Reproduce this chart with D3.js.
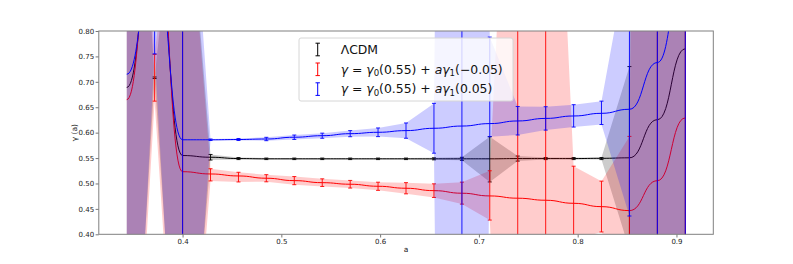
<!DOCTYPE html>
<html>
<head>
<meta charset="utf-8">
<style>
    body { margin: 0; background: #fff; }
    text { font-family: "DejaVu Sans", sans-serif; }
    .tick text { font-size: 7px; fill: #222; }
    .tick line { stroke: #777; }
</style>
</head>
<body>
<svg width="793" height="264"></svg>
<script src="https://d3js.org/d3.v7.min.js"></script>
<script>

    // scale factor a of the points
    var aVals = [0.3435, 0.3717, 0.4000, 0.4283, 0.4566, 0.4848, 0.5131, 0.5414, 0.5697, 0.5979, 0.6262,
                 0.6545, 0.6828, 0.7110, 0.7393, 0.7676, 0.7959, 0.8241, 0.8524, 0.8807, 0.9090];

    // model curves
    var blackLine = [0.689, 1.00, 0.555, 0.5516, 0.549, 0.5485, 0.5485, 0.5485, 0.5485, 0.5485, 0.5485,
                     0.5485, 0.5485, 0.5485, 0.549, 0.549, 0.549, 0.5495, 0.5505, 0.6255, 0.765];
    var redLine = [0.665, 1.05, 0.5232, 0.5187, 0.5148, 0.5103, 0.5056, 0.5016, 0.4985, 0.4945, 0.4906,
                   0.4859, 0.4808, 0.4755, 0.471, 0.467, 0.461, 0.4544, 0.4466, 0.5055, 0.629];
    var blueLine = [0.715, 0.95, 0.586, 0.586, 0.5865, 0.5875, 0.591, 0.594, 0.598, 0.6007, 0.604,
                    0.6086, 0.613, 0.6178, 0.623, 0.628, 0.6328, 0.638, 0.646, 0.738, 0.94];

    // measured points and their errors (bars + shaded bands)
    var blackMid = [0.684, 0.708, 0.555, 0.5516, 0.549, 0.5485, 0.5485, 0.5485, 0.5485, 0.5485, 0.5485,
                    0.5485, 0.5485, 0.5475, 0.549, 0.549, 0.549, 0.549, 0.55, 0.6255, 0.765];
    var blackErr = [0.884, 0.0015, 0.667, 0.0055, 0.002, 0.0015, 0.0015, 0.0015, 0.0015, 0.0015, 0.0015,
                    0.002, 0.003, 0.0445, 0.005, 0.002, 0.002, 0.002, 0.18, 5, 5];
    var redMid = [0.665, 0.708, 0.523, 0.517, 0.5125, 0.5103, 0.5056, 0.5016, 0.4985, 0.4945, 0.4906,
                  0.4859, 0.481, 0.4765, 0.471, 0.467, 0.461, 0.4546, 0.4466, 0.5055, 0.629];
    var redErr = [0.94, 0.046, 0.693, 0.012, 0.0095, 0.007, 0.008, 0.0075, 0.0075, 0.008, 0.011,
                  0.0134, 0.0216, 0.0485, 1.15, 1.25, 0.073, 0.05, 0.146, 5, 5];
    var blueMid = [0.715, 1.2, 0.586, 0.586, 0.5865, 0.5875, 0.591, 0.594, 0.598, 0.6007, 0.604,
                   0.6086, 0.613, 0.69, 0.6234, 0.628, 0.633, 0.639, 0.699, 0.738, 0.94];
    var blueErr = [1.01, 0.445, 0.778, 0.0015, 0.002, 0.0033, 0.0043, 0.005, 0.006, 0.0085, 0.015,
                   0.049, 5, 0.098, 0.028, 0.023, 0.022, 0.023, 0.263, 5, 5];

    var xTicks = [0.4, 0.5, 0.6, 0.7, 0.8, 0.9];
    var yTicks = [0.40, 0.45, 0.50, 0.55, 0.60, 0.65, 0.70, 0.75, 0.80];

    var svg = d3.select("svg"),
        pLeft = 98.8, pRight = 713.3, pTop = 31, pBottom = 234.3;

    var x = d3.scaleLinear().domain([0.3152, 0.9373]).range([pLeft, pRight]),
        y = d3.scaleLinear().domain([0.4, 0.8]).range([pBottom, pTop]);

    svg.append("rect").attr("width", 793).attr("height", 264).attr("fill", "#fff");

    svg.append("defs").append("clipPath").attr("id", "plotclip")
        .append("rect").attr("x", pLeft).attr("y", pTop)
        .attr("width", pRight - pLeft).attr("height", pBottom - pTop);

    var plot = svg.append("g").attr("clip-path", "url(#plotclip)");

    var series = [
        { color: "#000", line: blackLine, mid: blackMid, err: blackErr },
        { color: "#f00", line: redLine, mid: redMid, err: redErr },
        { color: "#00f", line: blueLine, mid: blueMid, err: blueErr }
    ];

    var band = d3.area()
        .x(function (d) { return x(d.a); })
        .y0(function (d) { return y(d.m - d.e); })
        .y1(function (d) { return y(d.m + d.e); });

    var curve = d3.line()
        .curve(d3.curveBumpX)
        .x(function (d) { return x(d.a); })
        .y(function (d) { return y(d.l); });

    series.forEach(function (s) {
        var pts = aVals.map(function (a, i) {
            return { a: a, m: s.mid[i], e: s.err[i], l: s.line[i] };
        });
        var g = plot.append("g");

        g.append("path").datum(pts)
            .attr("fill", s.color).attr("fill-opacity", 0.2)
            .attr("d", band);

        // error bars (first point has none)
        var bars = g.selectAll(".bar").data(pts.slice(1)).enter().append("g")
            .attr("stroke", s.color).attr("stroke-width", 0.9);
        bars.append("line")
            .attr("x1", function (d) { return x(d.a); })
            .attr("x2", function (d) { return x(d.a); })
            .attr("y1", function (d) { return Math.min(y(d.m - d.e), pBottom + 5); })
            .attr("y2", function (d) { return Math.max(y(d.m + d.e), pTop - 5); });
        [-1, 1].forEach(function (sgn) {
            bars.append("line")
                .attr("x1", function (d) { return x(d.a) - 2; })
                .attr("x2", function (d) { return x(d.a) + 2; })
                .attr("y1", function (d) { return y(d.m + sgn * d.e); })
                .attr("y2", function (d) { return y(d.m + sgn * d.e); });
        });

        g.append("path").datum(pts)
            .attr("fill", "none").attr("stroke", s.color).attr("stroke-width", 1)
            .attr("d", curve);
    });

    // axes
    var yAxis = svg.append("g").attr("transform", "translate(" + pLeft + ",0)")
        .call(d3.axisLeft(y).tickValues(yTicks).tickFormat(d3.format(".2f")).tickSize(3.2).tickPadding(1.5));
    var xAxis = svg.append("g").attr("transform", "translate(0," + pBottom + ")")
        .call(d3.axisBottom(x).tickValues(xTicks).tickFormat(d3.format(".1f")).tickSize(3.2).tickPadding(1.5));
    yAxis.select(".domain").remove();
    xAxis.select(".domain").remove();
    svg.selectAll(".tick text").attr("font-family", null);

    svg.append("rect")
        .attr("x", pLeft).attr("y", pTop).attr("width", pRight - pLeft).attr("height", pBottom - pTop)
        .attr("fill", "none").attr("stroke", "#808080").attr("stroke-width", 1);

    svg.append("text").attr("x", (pLeft + pRight) / 2).attr("y", 251.5)
        .attr("text-anchor", "middle").attr("font-size", 7.5).attr("fill", "#222").text("a");
    svg.append("text")
        .attr("transform", "translate(76.5," + (pTop + pBottom) / 2 + ") rotate(-90)")
        .attr("text-anchor", "middle").attr("font-size", 7.5).attr("fill", "#222").text("γ (a)");

    // legend
    var legend = svg.append("g");
    legend.append("rect")
        .attr("x", 299).attr("y", 38).attr("width", 214).attr("height", 63).attr("rx", 2)
        .attr("fill", "#fff").attr("fill-opacity", 0.8)
        .attr("stroke", "#d6d6d6").attr("stroke-width", 1);

    var legendRows = [
        { color: "#000", parts: [["ΛCDM", "n", ""]] },
        { color: "#f00", parts: [["γ", "i", ""], [" = ", "n", ""], ["γ", "i", ""], ["0", "n", "s"],
                                 ["(0.55) + ", "n", ""], ["aγ", "i", ""], ["1", "n", "s"], ["(−0.05)", "n", ""]] },
        { color: "#00f", parts: [["γ", "i", ""], [" = ", "n", ""], ["γ", "i", ""], ["0", "n", "s"],
                                 ["(0.55) + ", "n", ""], ["aγ", "i", ""], ["1", "n", "s"], ["(0.05)", "n", ""]] }
    ];

    legendRows.forEach(function (row, i) {
        var cy = 49.5 + i * 19.8;
        var h = legend.append("g").attr("stroke", row.color).attr("stroke-width", 1);
        h.append("line").attr("x1", 317.7).attr("x2", 317.7).attr("y1", cy - 6.3).attr("y2", cy + 6.3);
        h.append("line").attr("x1", 315.5).attr("x2", 319.9).attr("y1", cy - 6.3).attr("y2", cy - 6.3);
        h.append("line").attr("x1", 315.5).attr("x2", 319.9).attr("y1", cy + 6.3).attr("y2", cy + 6.3);

        var t = legend.append("text").attr("x", 340.7).attr("y", cy + 4.2)
            .attr("font-size", 12.4).attr("fill", "#111");
        var sub = false;
        row.parts.forEach(function (p) {
            var ts = t.append("tspan").text(p[0]);
            if (p[1] === "i") ts.attr("font-style", "italic");
            if (p[2] === "s") { ts.attr("font-size", 8.6).attr("dy", 2.6); sub = true; }
            else if (sub) { ts.attr("dy", -2.6); sub = false; }
        });
    });

</script>
</body>
</html>
